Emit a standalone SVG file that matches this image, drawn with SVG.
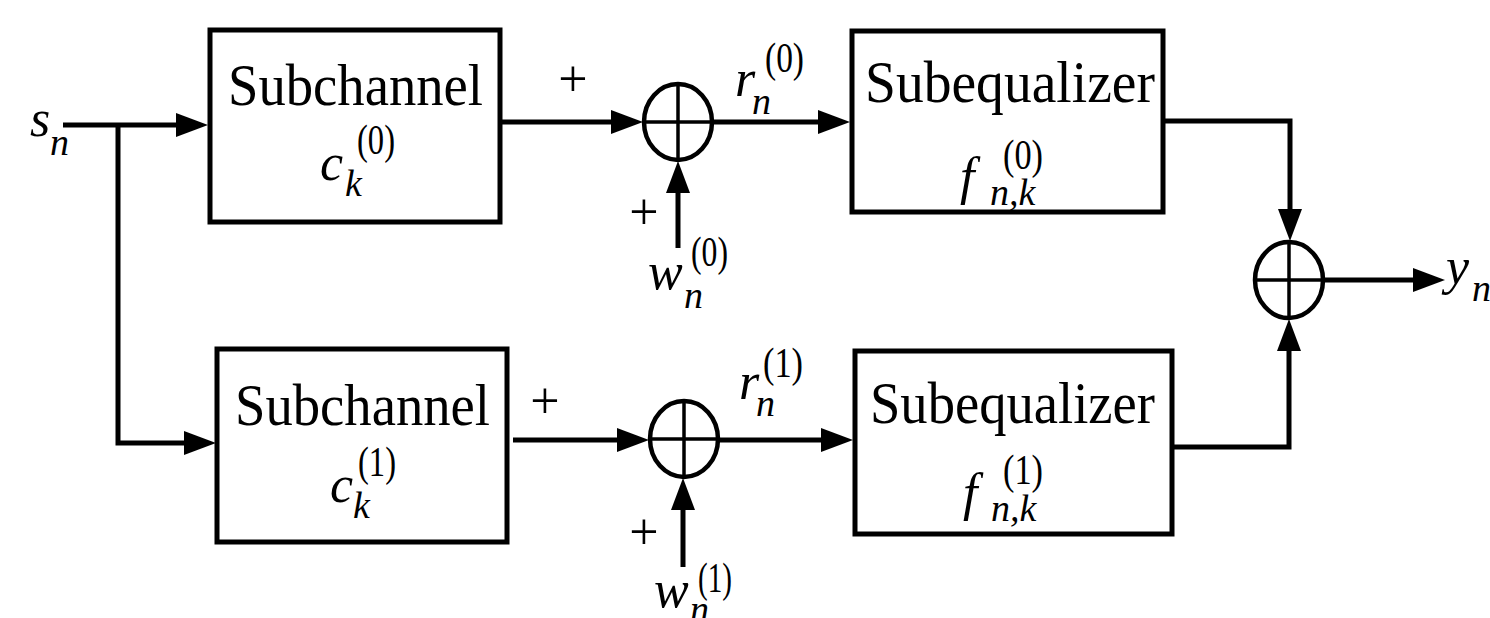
<svg xmlns="http://www.w3.org/2000/svg" width="1490" height="618" viewBox="0 0 1490 618">
<style>
.box{fill:#fff;stroke:#000;stroke-width:5}
.sum{fill:none;stroke:#000;stroke-width:4.5}
.cross{stroke:#000;stroke-width:3.5}
.wire{fill:none;stroke:#000;stroke-width:5;stroke-linejoin:miter}
text{font-family:'Liberation Serif','DejaVu Serif','Noto Serif',serif;fill:#000}
.lbl{font-size:60px}
.m{font-style:italic;font-size:52px}
.s{font-style:italic;font-size:38px}
.p{font-style:normal;font-size:42px}
.pl{font-size:52px;text-anchor:middle}
</style>
<defs>
<marker id="ah" markerUnits="userSpaceOnUse" markerWidth="34" markerHeight="26" refX="1" refY="12" orient="auto">
<path d="M0,0 L32,12 L0,24 z" fill="#000"/>
</marker>
</defs>
<g id="connectors">
<path class="wire" d="M63,125 H177" marker-end="url(#ah)"/>
<path class="wire" d="M118,125 V443 H185" marker-end="url(#ah)"/>
<path class="wire" d="M500,122 H612" marker-end="url(#ah)"/>
<path class="wire" d="M712,122 H819" marker-end="url(#ah)"/>
<path class="wire" d="M678,248 V192" marker-end="url(#ah)"/>
<path class="wire" d="M513,440 H618" marker-end="url(#ah)"/>
<path class="wire" d="M718,440 H822" marker-end="url(#ah)"/>
<path class="wire" d="M683,567 V509" marker-end="url(#ah)"/>
<path class="wire" d="M1163,121 H1290 V210" marker-end="url(#ah)"/>
<path class="wire" d="M1172,447 H1289 V350" marker-end="url(#ah)"/>
<path class="wire" d="M1323,280 H1414" marker-end="url(#ah)"/>
</g>
<g id="input">
<text class="m" x="30" y="136">s<tspan class="s" x="50" y="155">n</tspan></text>
</g>
<g id="subchannel0">
<rect class="box" x="210" y="30" width="290" height="192"/>
<text class="lbl" x="228" y="105" textLength="255" lengthAdjust="spacingAndGlyphs">Subchannel</text>
<text class="m" x="320" y="180">c<tspan class="s" x="345" y="196">k</tspan><tspan class="p" x="357" y="154" textLength="38" lengthAdjust="spacingAndGlyphs">(0)</tspan></text>
</g>
<g id="subchannel1">
<rect class="box" x="217" y="349" width="290" height="193"/>
<text class="lbl" x="235" y="425" textLength="255" lengthAdjust="spacingAndGlyphs">Subchannel</text>
<text class="m" x="330" y="502">c<tspan class="s" x="353" y="518">k</tspan><tspan class="p" x="358" y="476" textLength="38" lengthAdjust="spacingAndGlyphs">(1)</tspan></text>
</g>
<g id="sum0">
<ellipse class="sum" cx="678" cy="122" rx="34" ry="38"/>
<line class="cross" x1="644" y1="122" x2="712" y2="122"/>
<line class="cross" x1="678" y1="84" x2="678" y2="160"/>
<text class="pl" x="573" y="96">+</text>
<text class="pl" x="644" y="229">+</text>
</g>
<g id="noise0">
<text class="m" x="648" y="289">w<tspan class="s" x="684" y="308">n</tspan><tspan class="p" x="691" y="266" textLength="37" lengthAdjust="spacingAndGlyphs">(0)</tspan></text>
</g>
<g id="r0">
<text class="m" x="735" y="96">r<tspan class="s" x="752" y="114">n</tspan><tspan class="p" x="765" y="72" textLength="39" lengthAdjust="spacingAndGlyphs">(0)</tspan></text>
</g>
<g id="sum1">
<ellipse class="sum" cx="684" cy="439" rx="34" ry="38"/>
<line class="cross" x1="650" y1="439" x2="718" y2="439"/>
<line class="cross" x1="684" y1="401" x2="684" y2="477"/>
<text class="pl" x="545" y="418">+</text>
<text class="pl" x="644" y="549">+</text>
</g>
<g id="noise1">
<text class="m" x="654" y="607">w<tspan class="s" x="690" y="622">n</tspan><tspan class="p" x="698" y="592" textLength="34" lengthAdjust="spacingAndGlyphs">(1)</tspan></text>
</g>
<g id="r1">
<text class="m" x="739" y="399">r<tspan class="s" x="756" y="416">n</tspan><tspan class="p" x="763" y="377" textLength="40" lengthAdjust="spacingAndGlyphs">(1)</tspan></text>
</g>
<g id="subequalizer0">
<rect class="box" x="852" y="31" width="311" height="181"/>
<text class="lbl" x="865" y="102" textLength="290" lengthAdjust="spacingAndGlyphs">Subequalizer</text>
<text class="m" x="960" y="194" font-size="56">f<tspan class="s" x="990" y="205">n,k</tspan><tspan class="p" x="1003" y="169" textLength="40" lengthAdjust="spacingAndGlyphs">(0)</tspan></text>
</g>
<g id="subequalizer1">
<rect class="box" x="855" y="351" width="317" height="183"/>
<text class="lbl" x="870" y="423" textLength="285" lengthAdjust="spacingAndGlyphs">Subequalizer</text>
<text class="m" x="963" y="510" font-size="56">f<tspan class="s" x="991" y="521">n,k</tspan><tspan class="p" x="1003" y="484" textLength="40" lengthAdjust="spacingAndGlyphs">(1)</tspan></text>
</g>
<g id="sumout">
<ellipse class="sum" cx="1289" cy="280" rx="34" ry="38"/>
<line class="cross" x1="1255" y1="280" x2="1323" y2="280"/>
<line class="cross" x1="1289" y1="242" x2="1289" y2="318"/>
</g>
<g id="output">
<text class="m" x="1446" y="284">y<tspan class="s" x="1472" y="301">n</tspan></text>
</g>
</svg>
